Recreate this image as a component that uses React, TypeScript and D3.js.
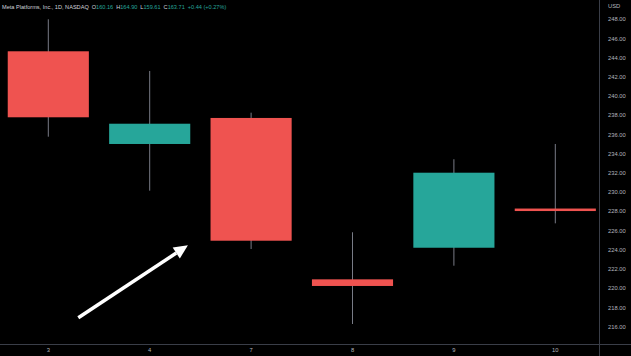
import React from "react";
import * as d3 from "d3";

const categories = ["3", "4", "7", "8", "9", "10"];
const opens = [244.67, 235.02, 237.73, 220.93, 224.22, 228.3];
const highs = [248.0, 242.62, 238.28, 225.83, 233.43, 235.02];
const lows = [235.78, 230.16, 224.09, 216.28, 222.35, 226.76];
const closes = [237.8, 237.13, 224.95, 220.24, 232.03, 228.1];
const yTicks = [248, 246, 244, 242, 240, 238, 236, 234, 232, 230, 228, 226, 224, 222, 220, 218, 216];
// arrow annotation in data space: [x index, price]
const arrowFrom = [0.296, 216.94];
const arrowTo = [1.377, 224.47];

const W = 631;
const H = 356;
const UP = "#26a69a";
const DOWN = "#ef5350";
const FONT = "'Liberation Sans', Arial, sans-serif";

export default function App() {
  const x = d3.scalePoint<string>().domain(categories).range([48.3, 555.3]);
  const step = x.step();
  const bodyW = step * 0.8;
  const y = d3.scaleLinear().domain([216, 248]).range([326.7, 19.3]);
  const xi = d3.scaleLinear().domain([0, 1]).range([x(categories[0])!, x(categories[1])!]);

  const ax1 = xi(arrowFrom[0]);
  const ay1 = y(arrowFrom[1]);
  const ax2 = xi(arrowTo[0]);
  const ay2 = y(arrowTo[1]);
  const ang = Math.atan2(ay2 - ay1, ax2 - ax1);
  const headLen = 14;
  const headHalf = 6.5;
  const bx = ax2 - headLen * Math.cos(ang);
  const by = ay2 - headLen * Math.sin(ang);
  const px = -Math.sin(ang);
  const py = Math.cos(ang);
  const headPts = [
    [ax2, ay2],
    [bx + px * headHalf, by + py * headHalf],
    [bx - px * headHalf, by - py * headHalf],
  ];

  const header = [
    { t: "Meta Platforms, Inc., 1D, NASDAQ", c: "#d1d4dc", gap: 0 },
    { t: "O", c: "#d1d4dc", gap: 3 },
    { t: "160.16", c: UP, gap: 0 },
    { t: "H", c: "#d1d4dc", gap: 3 },
    { t: "164.90", c: UP, gap: 0 },
    { t: "L", c: "#d1d4dc", gap: 3 },
    { t: "159.61", c: UP, gap: 0 },
    { t: "C", c: "#d1d4dc", gap: 3 },
    { t: "163.71", c: UP, gap: 0 },
    { t: "+0.44 (+0.27%)", c: UP, gap: 3 },
  ];

  return (
    <svg
      width={W}
      height={H}
      style={{ position: "absolute", left: 0, top: 0, background: "#000" }}
    >
      <rect x={0} y={0} width={W} height={H} fill="#000" />
      {/* axis separators */}
      <line x1={599.5} x2={599.5} y1={0} y2={H} stroke="#3a3e48" strokeWidth={1} />
      <line x1={0} x2={W} y1={344.5} y2={344.5} stroke="#3a3e48" strokeWidth={1} />

      {/* header */}
      <text x={2} y={8.5} fontFamily={FONT} fontSize={5.6}>
        {header.map((h, i) => (
          <tspan key={i} fill={h.c} dx={h.gap}>
            {h.t}
          </tspan>
        ))}
      </text>

      {/* y axis labels */}
      <text x={608} y={7.5} fontFamily={FONT} fontSize={5.8} fill="#b2b5be">
        USD
      </text>
      {yTicks.map((v) => (
        <text
          key={v}
          x={608}
          y={y(v)}
          dy="0.35em"
          fontFamily={FONT}
          fontSize={5.8}
          fill="#b2b5be"
        >
          {v.toFixed(2)}
        </text>
      ))}

      {/* x axis labels */}
      {categories.map((c) => (
        <text
          key={c}
          x={x(c)}
          y={351.5}
          textAnchor="middle"
          fontFamily={FONT}
          fontSize={5.8}
          fill="#b2b5be"
        >
          {c}
        </text>
      ))}

      {/* candles */}
      {categories.map((c, i) => {
        const cx = x(c)!;
        const up = closes[i] >= opens[i];
        const col = up ? UP : DOWN;
        const top = y(Math.max(opens[i], closes[i]));
        const bot = y(Math.min(opens[i], closes[i]));
        const h = Math.max(bot - top, 2.5);
        return (
          <g key={c}>
            <line
              x1={cx}
              x2={cx}
              y1={y(highs[i])}
              y2={y(lows[i])}
              stroke="#787b86"
              strokeWidth={1}
            />
            <rect x={cx - bodyW / 2} y={top} width={bodyW} height={h} fill={col} />
          </g>
        );
      })}

      {/* arrow annotation */}
      <line x1={ax1} y1={ay1} x2={bx} y2={by} stroke="#fff" strokeWidth={3.5} />
      <polygon points={headPts.map((p) => p.join(",")).join(" ")} fill="#fff" />
    </svg>
  );
}
